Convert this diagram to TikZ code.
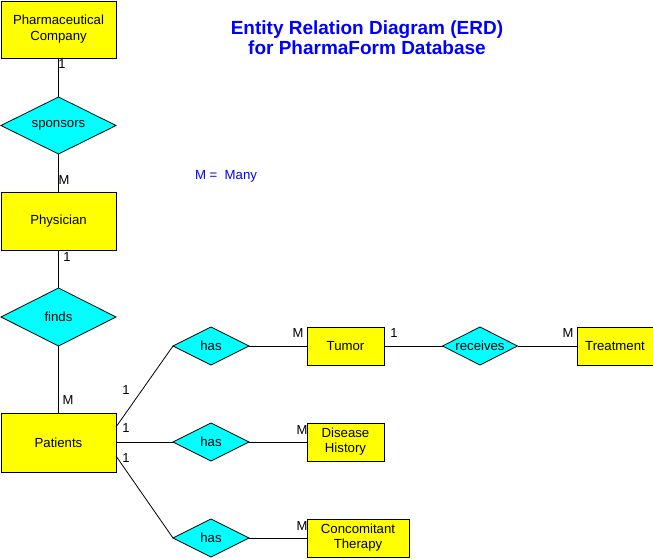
\documentclass[tikz,border=0pt]{standalone}
\usepackage{fontspec}
\setmainfont{Liberation Sans}
\usetikzlibrary{shapes.geometric}
\definecolor{entfill}{HTML}{FFFF00}
\definecolor{relfill}{HTML}{00FFFF}
\definecolor{inkblue}{HTML}{0000FF}

\begin{document}
\begin{tikzpicture}[x=1pt,y=-1pt,line width=0.8pt,
  every node/.style={font=\fontsize{13.2}{15}\selectfont,inner sep=0pt,outer sep=0pt},
  entity/.style={draw,fill=entfill,rectangle,align=center,minimum width=#1},
  entity/.default=115pt,
  rel/.style={draw,fill=relfill,diamond,aspect=2,minimum width=#1},
  rel/.default=76pt,
  card/.style={font=\fontsize{13}{15}\selectfont}]
\useasboundingbox (0,0) rectangle (653,559);
% entities down the left side
\node[entity,minimum height=57pt] (comp) at (58.5,29.5) {Pharmaceutical\\[1pt]Company};
\node[rel=115pt,minimum height=57pt] (spons) at (58.5,125.5) {sponsors};
\node[entity,minimum height=58pt] (phys) at (58.5,221) {Physician};
\node[rel=115pt,minimum height=58pt] (finds) at (58.5,317) {finds};
\node[entity,minimum height=59pt] (pat) at (58.5,442.5) {Patients};
% relations of patients
\foreach \n/\y in {hasa/346,hasb/442,hasc/538}{
  \node[rel,minimum height=38pt] (\n) at (211,\y) {has};}
\node[entity=77pt,minimum height=38pt] (tumor) at (345.5,346) {Tumor};
\node[entity=77pt,minimum height=38pt] (dis) at (345.5,442) {Disease\\History};
\node[entity=102pt,minimum height=38pt] (conc) at (358,538) {Concomitant\\Therapy};
\node[rel=75pt,minimum height=38pt] (recv) at (480,346) {receives};
\node[entity=76pt,minimum height=38pt] (treat) at (615,346) {Treatment};
% title and legend
\node[font=\fontsize{19}{20}\selectfont\bfseries,text=inkblue,align=center] (title) at (367,38) {Entity Relation Diagram (ERD)\\for PharmaForm Database};
\node[anchor=west,text=inkblue,font=\fontsize{13.2}{15}\selectfont] (legend) at (195,176) {M =\ \ Many};
% connectors
\coordinate (pup) at ([yshift=15.5pt]pat.east);
\coordinate (pdn) at ([yshift=-13.5pt]pat.east);
\draw (comp) -- (spons);
\draw (spons) -- (phys);
\draw (phys) -- (finds);
\draw (finds) -- (pat);
\draw (pup) -- (hasa.west);
\draw (hasb.west -| pat.east) -- (hasb.west);
\draw (pdn) -- (hasc.west);
\draw (hasa) -- (tumor);
\draw (hasb) -- (dis);
\draw (hasc) -- (conc.west |- hasc);
\draw (tumor) -- (recv);
\draw (recv) -- (treat);
% cardinalities
\foreach \n/\x/\y/\t in {ca/62/64/1,cb/64/180/M,cc/67/257/1,cd/68/400/M,
  ce/126/390/1,cf/126/428/1,cg/126/458/1,ch/298/333/M,ci/302/430/M,cj/302/526/M,
  ck/394/333/1,cl/568/333/M}{
  \node[card] (\n) at (\x,\y) {\t};}
\end{tikzpicture}
\end{document}
